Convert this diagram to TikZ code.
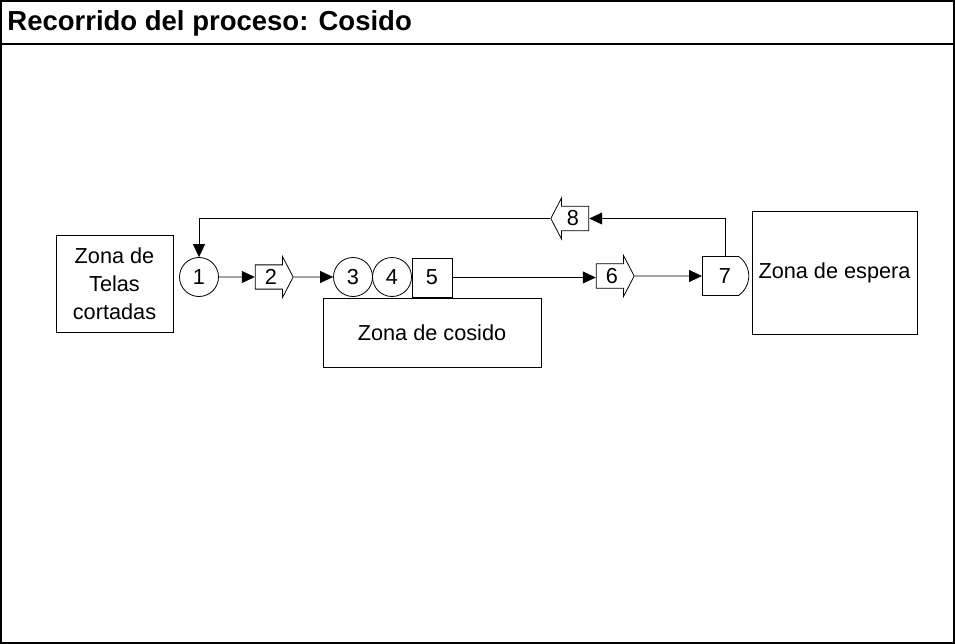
\documentclass[tikz,border=0pt]{standalone}
\usepackage{fontspec}
\setmainfont{Liberation Sans}
\usetikzlibrary{shapes.arrows,shapes.misc,arrows.meta}
\begin{document}
\begin{tikzpicture}[
x=1pt, y=-1pt,
every node/.style={font=\fontsize{21.7}{28}\selectfont, line width=0.8pt, inner sep=0pt},
zona/.style={rectangle, draw, align=center},
oper/.style={circle, draw, minimum size=39pt},
insp/.style={rectangle, draw, minimum width=40pt, minimum height=39pt},
trans/.style={single arrow, draw, minimum width=41pt, minimum height=38pt,
  single arrow head extend=5.5pt, single arrow tip angle=125},
demora/.style={rounded rectangle, rounded rectangle west arc=none,
  rounded rectangle arc length=110, draw, minimum width=36pt, minimum height=39pt},
flujo/.style={-{Triangle[length=13pt,width=12pt]}, line width=0.8pt},
]
  \useasboundingbox (0,0) rectangle (955,644);
  % marco y titulo
  \draw[line width=2pt] (1,1) rectangle (954,643);
  \draw[line width=2pt] (1,44) -- (954,44);
  \node[anchor=west, font=\fontsize{27.5}{30}\selectfont\bfseries] (titulo) at (7,23) {Recorrido del proceso: Cosido};
  % zonas
  \node[zona, minimum width=117pt, minimum height=97pt] (telas) at (114.5,284) {Zona de\\Telas\\cortadas};
  \node[zona, minimum width=218pt, minimum height=69pt] (cosido) at (432,332.5) {Zona de cosido};
  \node[zona, minimum width=165pt, minimum height=123pt] (espera) at (834.5,272.5) {Zona de espera};
  % actividades
  \node[oper] (a1) at (199,277) {1};
  \node[trans] (a2) at (271,277) {2};
  \node[oper] (a3) at (353,277) {3};
  \node[oper] (a4) at (392,277) {4};
  \node[insp] (a5) at (432,277.5) {5};
  \node[trans] (a6) at (612,276) {6};
  \node[demora] (a7) at (725,276) {7};
  \node[trans, shape border rotate=180] (a8) at (573,218.5) {8};
  % recorrido
  \draw[flujo] (a1) -- (a2);
  \draw[flujo] (a2) -- (a3);
  \draw[flujo] (a5.east) -- (a5.east -| a6.west);
  \draw[flujo] (a6) -- (a7);
  \draw[flujo] (a7.north) |- (a8.east);
  \draw[flujo] (a8.west) -| (a1.north);
\end{tikzpicture}
\end{document}
